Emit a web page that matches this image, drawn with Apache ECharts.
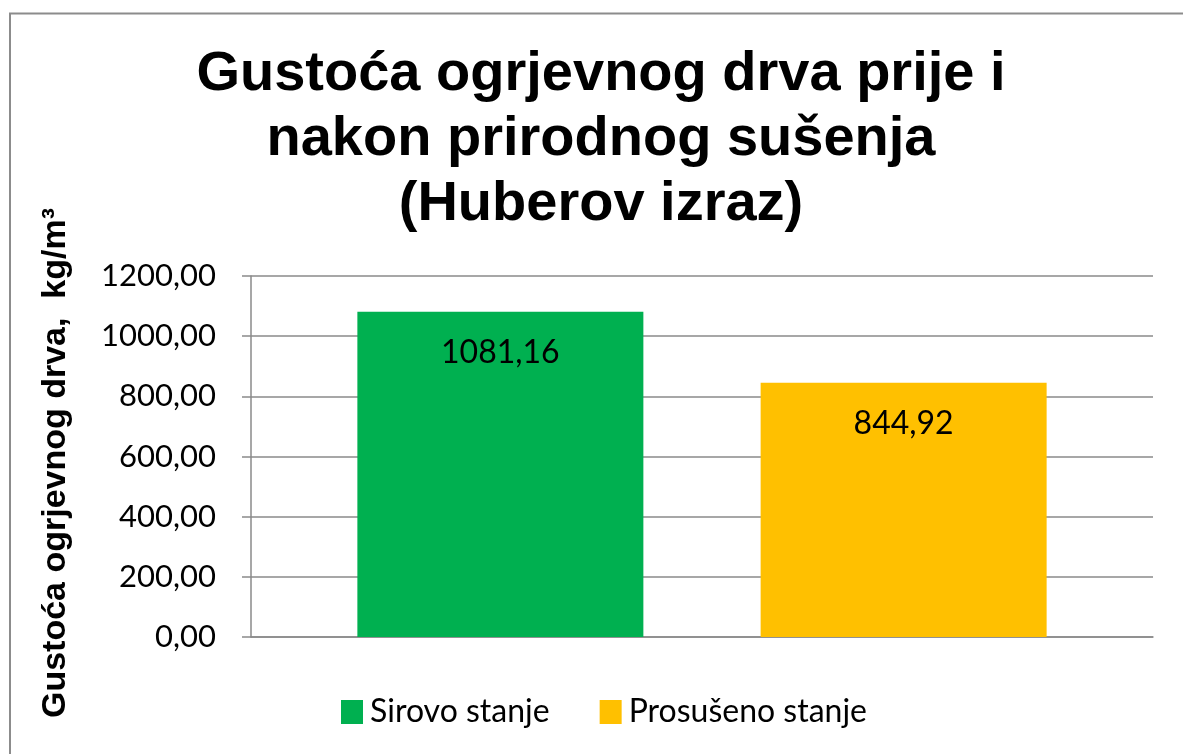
<!DOCTYPE html>
<html>
<head>
<meta charset="utf-8">
<script src="https://cdn.jsdelivr.net/npm/echarts@6/dist/echarts.min.js"></script>
<style>
html,body{margin:0;padding:0;background:#fff;}
#chart{width:1183px;height:754px;}
</style>
</head>
<body>
<div id="chart"></div>
<script>
var titleText = 'Gustoća ogrjevnog drva prije i\nnakon prirodnog sušenja\n(Huberov izraz)';
var yAxisTitle = 'Gustoća ogrjevnog drva,  kg/m³';
var categories = [''];
var seriesNames = ['Sirovo stanje', 'Prosušeno stanje'];
var sirovoValues = [1081.16];
var prosusenoValues = [844.92];
var seriesColors = ['#00B050', '#FFC000'];
var yMin = 0, yMax = 1200, yStep = 200;

function fmt(v) { return Number(v).toFixed(2).replace('.', ','); }

var chart = echarts.init(document.getElementById('chart'));
var labelFont = 'Lato, "Open Sans", sans-serif';
var barLabel = {
  show: true,
  position: 'insideTop',
  distance: 25,
  color: '#000',
  fontFamily: labelFont,
  fontSize: 32,
  formatter: function (p) { return fmt(p.value); }
};
chart.setOption({
  backgroundColor: '#fff',
  animation: false,
  title: {
    text: titleText,
    left: 601,
    top: 42,
    padding: 0,
    textAlign: 'center',
    textStyle: {
      fontFamily: '"Liberation Sans", Arial, sans-serif',
      fontWeight: 'bold',
      fontSize: 56,
      lineHeight: 65,
      color: '#000',
      align: 'center'
    }
  },
  legend: {
    data: seriesNames,
    left: 341,
    top: 696,
    padding: 0,
    itemWidth: 22,
    itemHeight: 24,
    itemGap: 50,
    icon: 'rect',
    textStyle: { fontFamily: labelFont, fontSize: 32, color: '#000', padding: [0, 0, 0, 2] }
  },
  grid: { left: 251, right: 30, top: 276, bottom: 117, containLabel: false },
  xAxis: {
    type: 'category',
    data: categories,
    axisLine: { show: true, lineStyle: { color: '#8a8a8a', width: 1.5 } },
    axisTick: { show: false },
    axisLabel: { show: false },
    splitLine: { show: false }
  },
  yAxis: {
    type: 'value',
    min: yMin,
    max: yMax,
    interval: yStep,
    name: yAxisTitle,
    nameLocation: 'middle',
    nameGap: 178,
    nameTextStyle: {
      fontFamily: '"Liberation Sans", Arial, sans-serif',
      fontWeight: 'bold',
      fontSize: 34,
      color: '#000',
      padding: [0, 13, 0, 0]
    },
    axisLine: { show: true, lineStyle: { color: '#8a8a8a', width: 1.5 } },
    axisTick: { show: true, length: 9, inside: false, lineStyle: { color: '#8a8a8a', width: 1.5 } },
    axisLabel: {
      margin: 35,
      fontFamily: labelFont,
      fontSize: 31,
      color: '#000',
      formatter: function (v) { return fmt(v); }
    },
    splitLine: { show: true, lineStyle: { color: '#8a8a8a', width: 1.5 } }
  },
  series: [
    {
      name: seriesNames[0],
      type: 'bar',
      data: sirovoValues,
      barWidth: 286,
      barGap: '41%',
      itemStyle: { color: seriesColors[0] },
      label: barLabel
    },
    {
      name: seriesNames[1],
      type: 'bar',
      data: prosusenoValues,
      barWidth: 286,
      barGap: '41%',
      itemStyle: { color: seriesColors[1] },
      label: barLabel
    }
  ],
  graphic: [
    {
      type: 'rect',
      silent: true,
      z: -1,
      shape: { x: 10, y: 13.5, width: 1300, height: 900 },
      style: { fill: 'none', stroke: '#8c8c8c', lineWidth: 2 }
    }
  ]
});
</script>
</body>
</html>
